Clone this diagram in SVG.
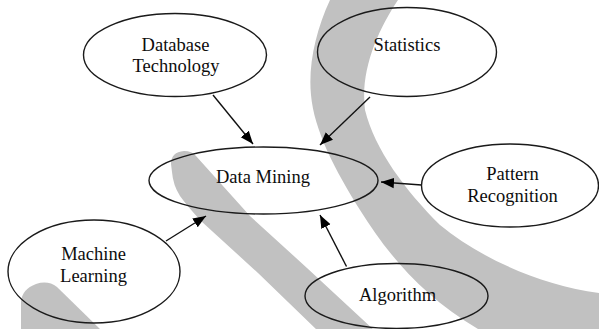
<svg xmlns="http://www.w3.org/2000/svg" width="599" height="329" viewBox="0 0 599 329">
  <style>
    .band { fill: #c1c1c1; stroke: none; }
    .node ellipse { fill: none; stroke: #1a1a1a; stroke-width: 1.4; }
    .node text { font-family: "Liberation Serif", "Times New Roman", serif; font-size: 18.5px; fill: #0d0d0d; text-anchor: middle; }
    .edge { stroke: #111; stroke-width: 1.4; fill: none; marker-end: url(#arrow); }
  </style>
  <defs>
    <marker id="arrow" markerUnits="userSpaceOnUse" markerWidth="14" markerHeight="12" refX="13" refY="6" orient="auto">
      <path d="M0,0.8 L13,6 L0,11.2 Z" fill="#000"/>
    </marker>
  </defs>
  <rect width="599" height="329" fill="#fff"/>
  <g id="watermark">
    <path class="band" d="M330,0 C316,30 308,65 311,95 C314,130 335,170 360,210 C385,250 420,295 478,329 L599,329 L599,293 C540,285 480,258 440,225 C405,190 375,150 365,110 C360,70 378,30 398,0 Z"/>
    <path class="band" d="M171,164 Q171,152 184,151 Q192,151 196,156 L250,216 L307,268 L375,331 L318,331 L258,273 L201,221 Q188,207 180,196 Q173,185 172,172 Z"/>
    <path class="band" d="M21,329 L21,302 Q22,289 36,284 Q48,280 57,287 L101,330 Z"/>
  </g>
  <g id="connectors">
    <line class="edge" x1="213" y1="95" x2="253" y2="144"/>
    <line class="edge" x1="370" y1="97" x2="320" y2="145"/>
    <line class="edge" x1="421.5" y1="185" x2="381" y2="182"/>
    <line class="edge" x1="346.5" y1="266.5" x2="320" y2="215"/>
    <line class="edge" x1="166" y1="241" x2="206" y2="216"/>
  </g>
  <g id="database-technology" class="node">
    <ellipse cx="175" cy="55" rx="91.5" ry="41.5"/>
    <text x="175.5" y="51">Database</text>
    <text x="176" y="71.5">Technology</text>
  </g>
  <g id="statistics" class="node">
    <ellipse cx="407" cy="52" rx="89.5" ry="44.5"/>
    <text x="407" y="51">Statistics</text>
  </g>
  <g id="data-mining" class="node">
    <ellipse cx="263.5" cy="180.5" rx="114.5" ry="33.5"/>
    <text x="263" y="182.5">Data Mining</text>
  </g>
  <g id="pattern-recognition" class="node">
    <ellipse cx="510" cy="185.5" rx="88.5" ry="41.5"/>
    <text x="512.5" y="180">Pattern</text>
    <text x="512.5" y="202">Recognition</text>
  </g>
  <g id="machine-learning" class="node">
    <ellipse cx="94" cy="271.5" rx="86" ry="51.5"/>
    <text x="93.5" y="260">Machine</text>
    <text x="93.5" y="282">Learning</text>
  </g>
  <g id="algorithm" class="node">
    <ellipse cx="396.5" cy="296" rx="91.5" ry="32.5"/>
    <text x="397.5" y="300.5">Algorithm</text>
  </g>
</svg>
